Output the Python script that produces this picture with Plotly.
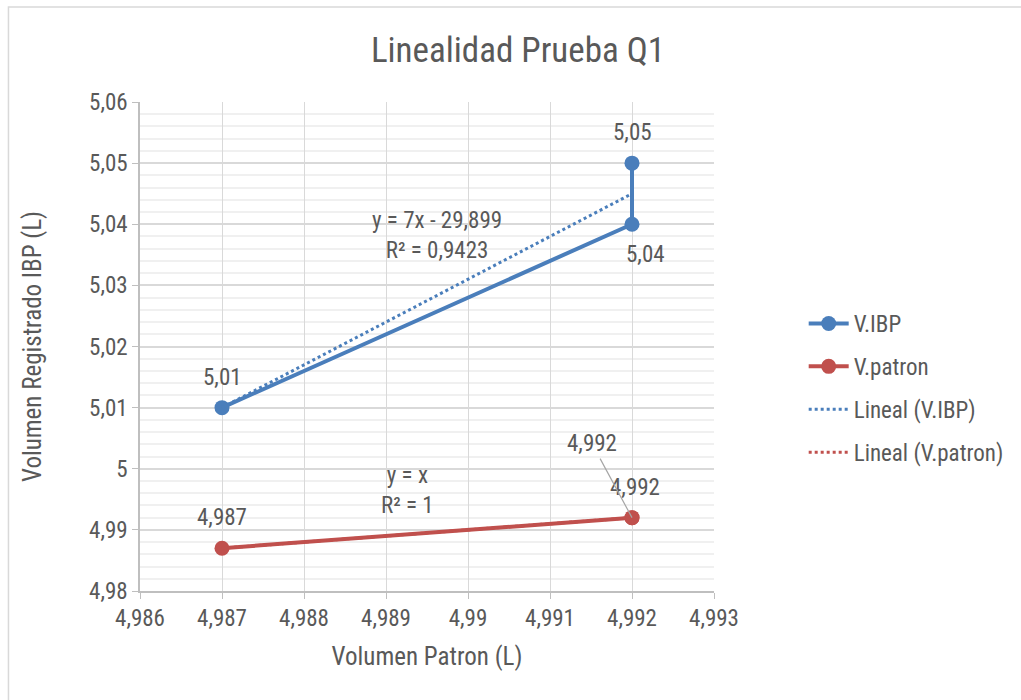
import numpy as np
import plotly.graph_objects as go

# ---- data ----
x_vals = [4.987, 4.992, 4.992]
ibp_vals = [5.01, 5.04, 5.05]
patron_vals = [4.987, 4.992, 4.992]
ibp_labels = ["5,01", "5,04", "5,05"]
patron_labels = ["4,987", "4,992", "4,992"]
x_ticks = [4.986, 4.987, 4.988, 4.989, 4.990, 4.991, 4.992, 4.993]
y_ticks = [4.98, 4.99, 5.00, 5.01, 5.02, 5.03, 5.04, 5.05, 5.06]
eq_ibp = "y = 7x - 29,899<br>R² = 0,9423"
eq_patron = "y = x<br>R² = 1"

def fmt(v, dec):
    s = f"{v:.{dec}f}".rstrip("0").rstrip(".")
    return s.replace(".", ",")

x_ticktext = [fmt(v, 3) for v in x_ticks]
y_ticktext = [fmt(v, 2) for v in y_ticks]

BLUE = "#4A7EBB"
RED = "#C0504D"
TXT = "#595959"
FONT = "Liberation Sans Narrow, Arial Narrow, Roboto Condensed, Liberation Sans, sans-serif"
FS = 23

# linear trendlines (Excel "Lineal")
xs = np.array(x_vals)
m1, b1 = np.polyfit(xs, np.array(ibp_vals), 1)
m2, b2 = np.polyfit(xs, np.array(patron_vals), 1)
tx = [min(x_vals), max(x_vals)]

fig = go.Figure()
fig.add_trace(go.Scatter(x=x_vals, y=ibp_vals, mode="lines+markers", name="V.IBP", legendgroup="a",
                         line=dict(color=BLUE, width=4), marker=dict(size=15, color=BLUE)))
fig.add_trace(go.Scatter(x=x_vals, y=patron_vals, mode="lines+markers", name="V.patron", legendgroup="b",
                         line=dict(color=RED, width=4), marker=dict(size=15, color=RED)))
fig.add_trace(go.Scatter(x=tx, y=[m1 * v + b1 for v in tx], mode="lines", name="Lineal (V.IBP)", legendgroup="c",
                         line=dict(color=BLUE, width=3, dash="dot")))
fig.add_trace(go.Scatter(x=tx, y=[m2 * v + b2 for v in tx], mode="lines", name="Lineal (V.patron)", legendgroup="d",
                         line=dict(color=RED, width=3, dash="dot")))

ann = []
lab_font = dict(family=FONT, size=FS, color=TXT)
# V.IBP labels
ann.append(dict(x=x_vals[0], y=ibp_vals[0], text=ibp_labels[0], showarrow=False, xshift=0, yshift=30, font=lab_font))
ann.append(dict(x=x_vals[1], y=ibp_vals[1], text=ibp_labels[1], showarrow=False, xshift=13, yshift=-30, font=lab_font))
ann.append(dict(x=x_vals[2], y=ibp_vals[2], text=ibp_labels[2], showarrow=False, xshift=0, yshift=31, font=lab_font))
# V.patron labels
ann.append(dict(x=x_vals[0], y=patron_vals[0], text=patron_labels[0], showarrow=False, xshift=0, yshift=31, font=lab_font))
ann.append(dict(x=x_vals[1], y=patron_vals[1], text=patron_labels[1], showarrow=False, xshift=3, yshift=30, font=lab_font))
ann.append(dict(x=x_vals[2], y=patron_vals[2], text=patron_labels[2], showarrow=True, arrowhead=0,
                arrowwidth=1.2, arrowcolor="#A6A6A6", ax=-40, ay=-74, font=lab_font, standoff=0))
# equations
ann.append(dict(x=4.98962, y=5.0382, text=eq_ibp, showarrow=False, font=lab_font, align="center"))
ann.append(dict(x=4.98926, y=4.9965, text=eq_patron, showarrow=False, font=lab_font, align="center"))

fig.update_layout(
    width=1021, height=700,
    margin=dict(l=140, r=305, t=102, b=109),
    paper_bgcolor="white", plot_bgcolor="white",
    separators=",.",
    font=dict(family=FONT, color=TXT, size=FS),
    title=dict(text="Linealidad Prueba Q1", x=518 / 1021, xanchor="center", y=1 - 50 / 700, yanchor="middle",
               font=dict(family=FONT, size=35, color=TXT)),
    xaxis=dict(range=[4.986, 4.993], tickvals=x_ticks, ticktext=x_ticktext,
               showgrid=True, gridcolor="#D9D9D9", gridwidth=1,
               showline=True, linecolor="#BFBFBF", linewidth=1.5,
               ticks="outside", ticklen=6, tickcolor="#BFBFBF",
               tickfont=dict(family=FONT, size=FS, color=TXT), zeroline=False,
               title=dict(text="Volumen Patron (L)", font=dict(family=FONT, size=25, color=TXT), standoff=16)),
    yaxis=dict(range=[4.98, 5.06], tickvals=y_ticks, ticktext=y_ticktext,
               showgrid=True, gridcolor="#D9D9D9", gridwidth=1.5,
               minor=dict(dtick=0.002, tick0=4.98, showgrid=True, gridcolor="#F0F0F0", gridwidth=1.5),
               showline=True, linecolor="#BFBFBF", linewidth=1.5,
               ticks="outside", ticklen=6, tickcolor="#BFBFBF",
               tickfont=dict(family=FONT, size=FS, color=TXT), zeroline=False,
               title=dict(text="Volumen Registrado IBP (L)", font=dict(family=FONT, size=25, color=TXT), standoff=40)),
    legend=dict(x=(806 - 140) / 576, y=(591 - 388) / 489, xanchor="left", yanchor="middle", bgcolor="rgba(0,0,0,0)",
                font=dict(family=FONT, size=FS, color=TXT), tracegroupgap=10, itemwidth=40),
    annotations=ann,
    shapes=[dict(type="rect", xref="paper", yref="paper",
                 x0=(8 - 140) / 576, x1=(1030 - 140) / 576,
                 y0=(591 - 710) / 489, y1=(591 - 7) / 489,
                 line=dict(color="#D9D9D9", width=1.5), fillcolor="rgba(0,0,0,0)", layer="below")],
)

fig.write_html("out.html")
